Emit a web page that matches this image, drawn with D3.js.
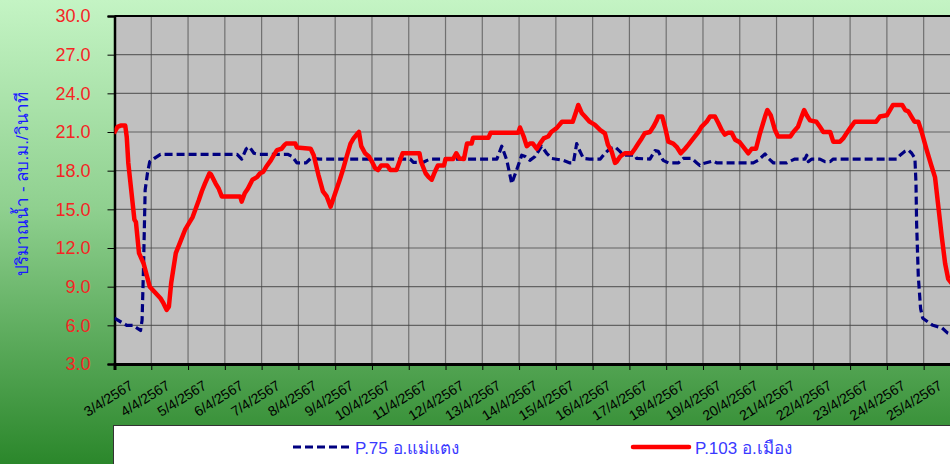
<!DOCTYPE html>
<html>
<head>
<meta charset="utf-8">
<script src="https://cdn.jsdelivr.net/npm/d3@7"></script>
<style>
  body { margin: 0; overflow: hidden; }
  svg { display: block; font-family: "Liberation Sans", "Noto Sans", sans-serif; }
</style>
</head>
<body>
<div id="root"></div>
<script>
// day labels, one per 24 hours starting 3/4/2567
const dayLabels = ['3/4/2567', '4/4/2567', '5/4/2567', '6/4/2567', '7/4/2567', '8/4/2567', '9/4/2567',
  '10/4/2567', '11/4/2567', '12/4/2567', '13/4/2567', '14/4/2567', '15/4/2567', '16/4/2567', '17/4/2567',
  '18/4/2567', '19/4/2567', '20/4/2567', '21/4/2567', '22/4/2567', '23/4/2567', '24/4/2567', '25/4/2567'];
const flowTicks = [3, 6, 9, 12, 15, 18, 21, 24, 27, 30];
const seriesNames = ['P.75 อ.แม่แตง', 'P.103 อ.เมือง'];

// [hour since 3/4 00:00, flow m3/s]
const p75 = [[0, 6.55], [8, 6.0], [12, 6.0], [17, 5.6], [18, 6.4], [19, 10.8], [20, 16.5], [21.5, 17.8],
  [23, 18.7], [26, 18.95], [30, 19.27], [80, 19.27], [83, 18.9], [86, 19.7], [88, 19.85], [91, 19.35],
  [94, 19.27], [113, 19.27], [116, 19.1], [119, 18.6], [125, 18.6], [128, 18.95], [134, 18.9], [193, 18.9],
  [195, 18.65], [201.5, 18.65], [204, 18.8], [206, 18.9], [249.5, 18.9], [252.7, 19.9], [256, 18.8],
  [259.2, 17.0], [262.4, 18.05], [265.7, 19.2], [268, 19.1], [271, 18.8], [274.4, 19.1], [278.7, 19.9],
  [282, 19.35], [285.3, 18.95], [292.8, 18.8], [297.2, 18.6], [299.4, 18.6], [301.6, 20.1], [303.7, 19.5],
  [306, 18.95], [310, 18.9], [317, 18.9], [320, 19.35], [323.3, 19.7], [326.6, 19.85], [329.8, 19.5],
  [332, 19.2], [339.6, 19.2], [340.7, 18.95], [349.4, 18.9], [352.7, 19.55], [354.8, 19.5], [358, 18.8],
  [361.4, 18.6], [368, 18.6], [371.2, 18.95], [376.6, 18.95], [380, 18.6], [382, 18.4], [384.2, 18.55],
  [390.7, 18.75], [393, 18.6], [416.8, 18.6], [420, 18.8], [424.5, 19.3], [426.7, 18.95], [430, 18.6],
  [438.6, 18.6], [442, 18.8], [444, 18.9], [450.5, 18.9], [451.7, 19.2], [452.7, 18.7], [455, 18.9],
  [460.3, 18.9], [463.6, 18.7], [467, 18.7], [469, 18.9], [510.4, 18.9], [512.6, 19.2], [515.8, 19.5],
  [518, 19.6], [520.2, 19.35], [522.3, 18.95], [523, 17.0], [523.4, 13.9], [524.5, 9.8], [526, 7.3],
  [527.4, 6.55], [534, 6.0], [540, 5.8], [543.7, 5.4], [546, 5.3]];

const p103 = [[0, 21.0], [2, 21.4], [4, 21.5], [7, 21.5], [8, 20.6], [9, 18.6], [13, 14.2], [14, 14.0],
  [16, 11.6], [19, 10.8], [23, 9.0], [30, 8.1], [32, 7.7], [34, 7.2], [35.5, 7.45], [37, 9.3], [40, 11.6],
  [43, 12.5], [46, 13.4], [49, 14.0], [51, 14.4], [55, 15.7], [57, 16.4], [59, 17.0], [62, 17.8], [63, 17.7],
  [66, 17.0], [68, 16.6], [70, 16.0], [82, 16.0], [83, 15.6], [85, 16.25], [87, 16.6], [90, 17.3], [93, 17.5],
  [95, 17.8], [97, 17.9], [99, 18.3], [102, 18.8], [104, 19.2], [106, 19.6], [109, 19.7], [111, 20.0],
  [112, 20.1], [118, 20.1], [119, 19.8], [128, 19.7], [130, 19.2], [133, 17.7], [136, 16.4], [138.5, 16.0],
  [141, 15.2], [144, 16.25], [147, 17.3], [149, 18.05], [151.5, 19.1], [154, 20.1], [156, 20.5], [158, 20.8],
  [159.5, 21.0], [161, 19.9], [163.5, 19.35], [166, 19.1], [168, 18.7], [170, 18.2], [172, 18.05],
  [174, 18.4], [178, 18.4], [180, 18.05], [184, 18.05], [186, 18.7], [188, 19.35], [199, 19.35], [200, 18.7],
  [203, 17.8], [205, 17.5], [207, 17.3], [209, 17.9], [211, 18.4], [215, 18.4], [216, 18.9], [221, 18.9],
  [223, 19.35], [225, 18.95], [228, 18.9], [230, 20.1], [233, 20.1], [234, 20.55], [244, 20.55],
  [245.5, 20.95], [263.5, 20.95], [264.6, 21.35], [267, 20.65], [269, 19.9], [271, 20.1], [273, 20.1],
  [275.5, 19.7], [277.6, 20.1], [280, 20.5], [283, 20.65], [285, 21.0], [288.5, 21.3], [292, 21.8],
  [299, 21.8], [301.6, 22.7], [302.6, 23.1], [305, 22.45], [307, 22.2], [310, 21.8], [313.5, 21.55],
  [317, 21.15], [320, 20.9], [322, 20.0], [324.4, 19.5], [326.6, 18.6], [327.7, 18.7], [330, 19.1],
  [333, 19.35], [337.5, 19.35], [339.6, 19.7], [341.8, 20.1], [344, 20.5], [346, 20.9], [349.4, 21.0],
  [351.6, 21.4], [353.8, 21.9], [354.8, 22.2], [357.4, 22.2], [359.2, 21.4], [361.4, 20.25], [364.6, 20.1],
  [366.8, 19.85], [369.5, 19.35], [372.3, 19.7], [374.4, 20.0], [377.7, 20.5], [381, 21.0], [383, 21.4],
  [386.4, 21.8], [388.6, 22.2], [391.8, 22.2], [394, 21.7], [396.2, 21.15], [398.3, 20.8], [400.5, 20.95],
  [402.7, 20.95], [405, 20.4], [408, 20.2], [410.3, 19.85], [413.6, 19.35], [415.8, 19.7], [418.6, 19.7],
  [421.2, 20.9], [424.5, 22.2], [426, 22.7], [428.2, 22.3], [431, 21.15], [433, 20.65], [441, 20.65],
  [443, 21.0], [446, 21.4], [448.4, 22.2], [450, 22.7], [451.7, 22.3], [453.8, 21.9], [458, 21.8],
  [460.3, 21.4], [462.5, 21.0], [467, 21.0], [469, 20.25], [473.4, 20.25], [475.5, 20.5], [477.7, 20.9],
  [480, 21.3], [483, 21.8], [497, 21.8], [499.5, 22.2], [504, 22.3], [506, 22.7], [508, 23.1], [514, 23.1],
  [516, 22.7], [518, 22.6], [520, 22.2], [522, 21.8], [524.5, 21.8], [526.7, 21.0], [530, 19.6],
  [533, 18.4], [535.4, 17.5], [537.6, 15.2], [539.8, 12.9], [542, 10.8], [544, 9.6], [546, 9.3]];

const W = 950, H = 464;
const plot = { left: 114.5, top: 16, bottom: 364 };

const svg = d3.select('#root').append('svg').attr('width', W).attr('height', H);

const defs = svg.append('defs');
const grad = defs.append('linearGradient').attr('id', 'bg').attr('x1', 0).attr('y1', 0).attr('x2', 0).attr('y2', 1);
grad.append('stop').attr('offset', '0%').attr('stop-color', '#c4f4c4');
grad.append('stop').attr('offset', '45%').attr('stop-color', '#8fd08f');
grad.append('stop').attr('offset', '100%').attr('stop-color', '#2b872b');
defs.append('clipPath').attr('id', 'clip').append('rect')
  .attr('x', plot.left).attr('y', plot.top).attr('width', W - plot.left).attr('height', plot.bottom - plot.top);

svg.append('rect').attr('width', W).attr('height', H).attr('fill', 'url(#bg)');

// 23 days of hourly data, plot runs a little past the window edge
const x = d3.scaleLinear().domain([0, 552]).range([plot.left, plot.left + 23 * 36.78]);
const y = d3.scaleLinear().domain([3, 30]).range([plot.bottom, plot.top]);

svg.append('rect')
  .attr('x', plot.left).attr('y', plot.top)
  .attr('width', W - plot.left).attr('height', plot.bottom - plot.top)
  .attr('fill', '#c0c0c0');

const dayHours = dayLabels.map((d, i) => i * 24);

// grid
svg.append('g').selectAll('line').data(dayHours.slice(1)).join('line')
  .attr('x1', d => x(d)).attr('x2', d => x(d))
  .attr('y1', plot.top).attr('y2', plot.bottom)
  .attr('stroke', '#555').attr('stroke-width', 1.2).attr('stroke-opacity', 0.75);
svg.append('g').selectAll('line').data(flowTicks.slice(1, -1)).join('line')
  .attr('x1', plot.left).attr('x2', W)
  .attr('y1', d => y(d)).attr('y2', d => y(d))
  .attr('stroke', '#444').attr('stroke-width', 1.2).attr('stroke-opacity', 0.75);

// axes
const yAxis = svg.append('g').attr('transform', `translate(${plot.left},0)`)
  .call(d3.axisLeft(y).tickValues(flowTicks).tickFormat(d3.format('.1f')).tickSize(7).tickPadding(17));
yAxis.select('.domain').attr('stroke', '#000').attr('stroke-width', 2.5);
yAxis.selectAll('.tick line').attr('stroke', '#000');
yAxis.selectAll('.tick text').attr('fill', '#f52525').attr('font-size', 18);

const xAxis = svg.append('g').attr('transform', `translate(0,${plot.bottom})`)
  .call(d3.axisBottom(x).tickValues(dayHours).tickFormat((d, i) => dayLabels[i]).tickSize(6));
xAxis.select('.domain').attr('stroke', '#000').attr('stroke-width', 3);
xAxis.selectAll('.tick line').attr('stroke', '#000');
xAxis.selectAll('.tick text')
  .attr('fill', '#000').attr('font-size', 14)
  .attr('text-anchor', 'end')
  .attr('dy', 0).attr('y', 0)
  .attr('transform', 'translate(19,24) rotate(-32)');

svg.append('line').attr('x1', plot.left).attr('x2', W).attr('y1', plot.top).attr('y2', plot.top)
  .attr('stroke', '#000').attr('stroke-width', 2);

// lines
const line = d3.line().x(d => x(d[0])).y(d => y(d[1]));
const lines = svg.append('g').attr('clip-path', 'url(#clip)');
lines.append('path').datum(p75)
  .attr('d', line).attr('fill', 'none')
  .attr('stroke', '#000080').attr('stroke-width', 3.2)
  .attr('stroke-dasharray', '8,4').attr('stroke-linejoin', 'round');
lines.append('path').datum(p103)
  .attr('d', line).attr('fill', 'none')
  .attr('stroke', '#ff0000').attr('stroke-width', 4.5)
  .attr('stroke-linejoin', 'round').attr('stroke-linecap', 'round');

// y title
svg.append('text')
  .attr('transform', 'translate(28,184) rotate(-90)')
  .attr('text-anchor', 'middle')
  .attr('fill', '#1a1aff').attr('font-size', 17)
  .text('ปริมาณน้ำ - ลบ.ม./วินาที');

// legend
const legend = svg.append('g');
legend.append('rect').attr('x', 113.5).attr('y', 425.5).attr('width', W).attr('height', 60)
  .attr('fill', '#fff').attr('stroke', '#333').attr('stroke-width', 1);
const legendItems = [
  { name: seriesNames[0], x0: 293, color: '#000080', width: 3.2, dash: '8,4' },
  { name: seriesNames[1], x0: 633, color: '#ff0000', width: 4.5, dash: null }
];
legendItems.forEach(it => {
  legend.append('line').attr('x1', it.x0).attr('x2', it.x0 + 56).attr('y1', 447).attr('y2', 447)
    .attr('stroke', it.color).attr('stroke-width', it.width)
    .attr('stroke-dasharray', it.dash).attr('stroke-linecap', it.dash ? null : 'round');
  legend.append('text').attr('x', it.x0 + 62).attr('y', 454)
    .attr('fill', '#3a3aff').attr('font-size', 17).text(it.name);
});
</script>
</body>
</html>
